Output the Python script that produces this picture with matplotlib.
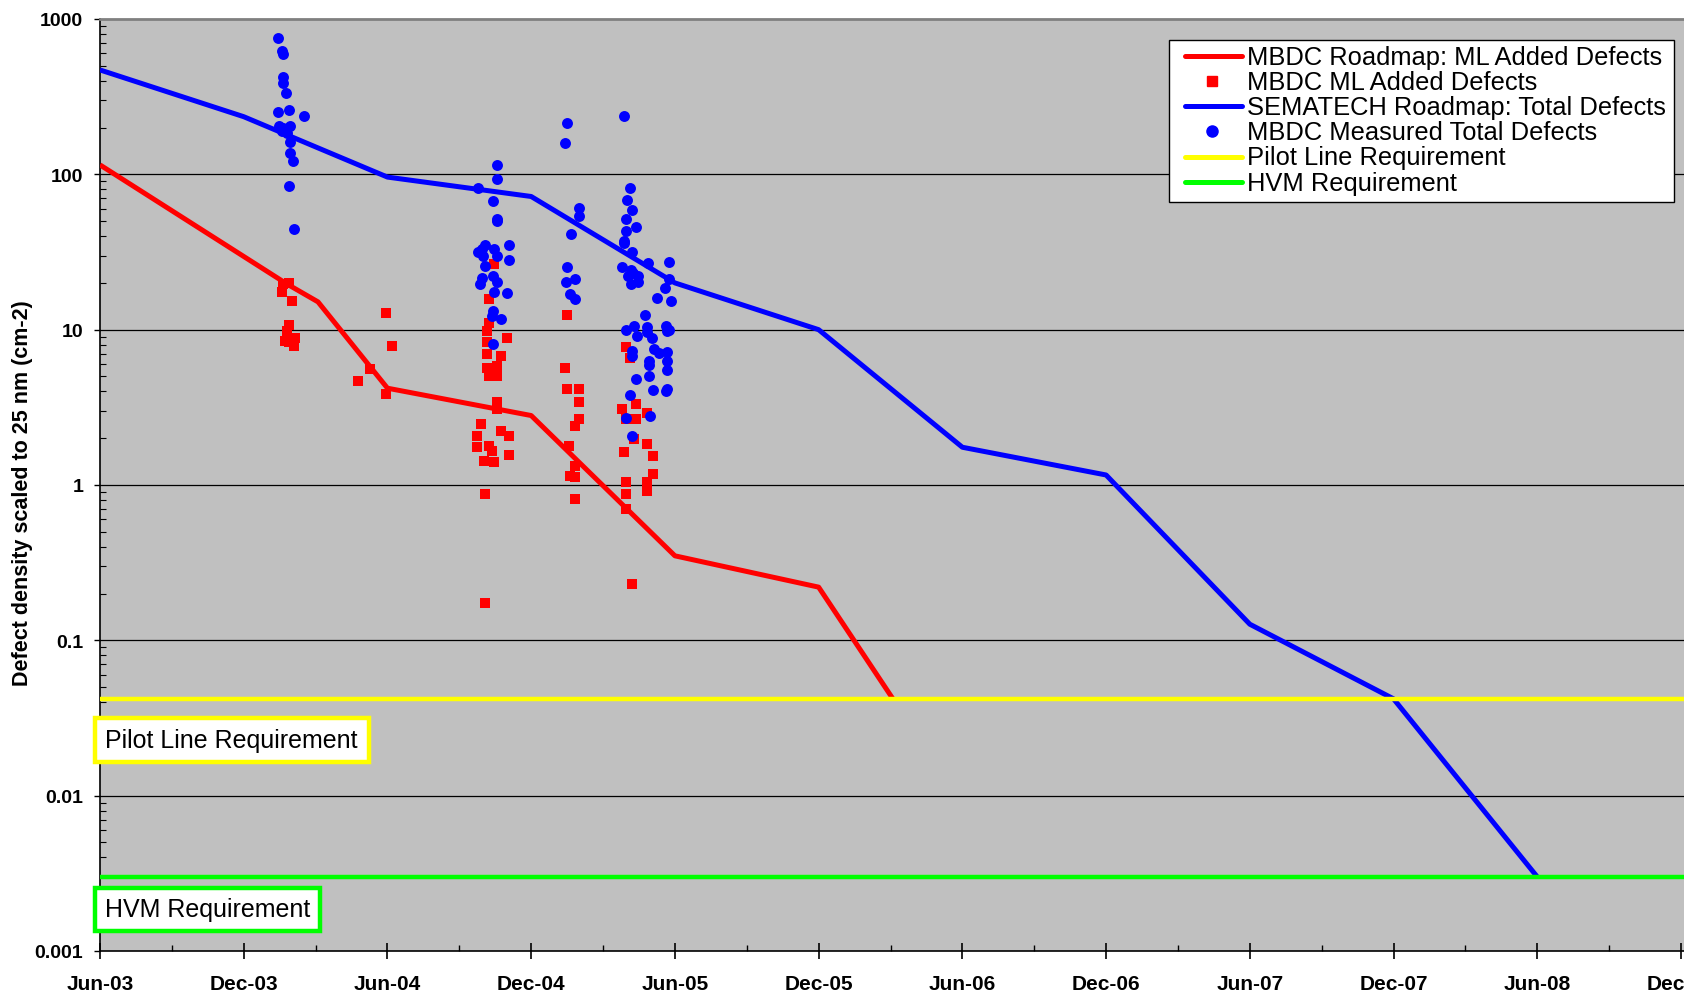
import matplotlib
matplotlib.use("Agg")
import matplotlib.pyplot as plt
from matplotlib.lines import Line2D
from matplotlib.patches import Rectangle
from matplotlib.ticker import FixedLocator, NullFormatter, LogLocator

plt.rcParams['font.family'] = ['Liberation Sans', 'DejaVu Sans']

# ---------------- data (x = months after Jun-2003) ----------------
tick_labels = ['Jun-03', 'Dec-03', 'Jun-04', 'Dec-04', 'Jun-05', 'Dec-05',
               'Jun-06', 'Dec-06', 'Jun-07', 'Dec-07', 'Jun-08', 'Dec-08']
tick_months = [0, 6, 12, 18, 24, 30, 36, 42, 48, 54, 60, 66]

y_ticks = [0.001, 0.01, 0.1, 1, 10, 100, 1000]
y_tick_labels = ['0.001', '0.01', '0.1', '1', '10', '100', '1000']

# MBDC roadmap: ML added defects
red_road_x = [0, 7.8, 9.1, 12, 18, 24, 30, 33.1]
red_road_y = [115, 19.7, 15.1, 4.2, 2.8, 0.35, 0.22, 0.042]

# SEMATECH roadmap: total defects
blue_road_x = [0, 6, 12, 18, 24, 30, 36, 42, 48, 54, 60]
blue_road_y = [470, 235, 96, 72, 20, 10, 1.75, 1.16, 0.127, 0.042, 0.003]

# requirements
pilot_req = 0.042
hvm_req = 0.003

# MBDC ML added defects (measured)
red_pts_x = [7.65, 7.90, 7.59, 8.02, 7.90, 7.80, 7.73, 8.12, 8.08, 7.90,
             11.94, 12.19, 11.28, 10.79, 11.94,
             16.44, 16.23, 16.23, 16.16, 17.00, 16.16, 16.16, 16.72, 16.16, 16.58,
             16.58, 16.23, 16.58, 16.58, 15.92, 15.74, 16.72, 17.06, 15.74, 16.23,
             16.37, 16.02, 16.44, 17.06, 16.09, 16.09,
             19.50, 19.43, 19.50, 19.99, 19.99, 19.99, 19.81, 19.57, 19.81, 19.64,
             19.81, 19.81,
             21.94, 22.12, 21.80, 22.36, 22.85, 22.36, 21.94, 22.29, 22.85, 21.87,
             23.10, 23.10, 22.85, 22.85, 21.94, 21.94, 21.94, 22.19]
red_pts_y = [19.7, 19.9, 17.5, 15.2, 10.7, 9.8, 8.4, 8.9, 7.9, 8.3,
             12.8, 7.8, 5.6, 4.7, 3.85,
             26.4, 15.7, 11.1, 9.8, 8.9, 8.3, 7.0, 6.8, 5.7, 5.8,
             5.05, 5.05, 3.4, 3.1, 2.47, 2.08, 2.23, 2.08, 1.75, 1.79,
             1.66, 1.43, 1.40, 1.56, 0.87, 0.174,
             12.4, 5.7, 4.14, 4.14, 3.4, 2.65, 2.4, 1.79, 1.33, 1.15,
             1.12, 0.81,
             7.7, 6.6, 3.1, 3.3, 2.9, 2.65, 2.65, 1.98, 1.83, 1.64,
             1.54, 1.17, 1.04, 0.92, 1.04, 0.87, 0.70, 0.23]

# MBDC measured total defects
blue_pts_x = [7.45, 7.59, 7.63, 7.62, 7.63, 7.77, 7.43, 7.89, 8.50, 7.49,
              7.65, 7.94, 7.61, 7.81, 7.94, 7.94, 8.07, 7.87, 8.08,
              16.58, 16.58, 15.77, 16.41, 16.58, 16.58, 16.09, 17.06, 15.77, 15.95,
              16.44, 16.58, 16.00, 17.06, 16.09, 16.41, 15.95, 15.88, 16.58, 16.44,
              16.97, 16.41, 16.37, 16.74, 16.41,
              19.50, 19.43, 19.99, 19.99, 19.67, 19.50, 19.85, 19.47, 19.64, 19.85,
              21.87, 22.12, 21.98, 22.19, 21.94, 22.36, 21.94, 21.87, 21.87, 22.19,
              22.87, 23.75, 21.80, 22.15, 22.27, 22.44, 22.06, 22.44, 22.15, 23.75,
              23.58, 23.26, 23.82, 22.77, 21.94, 22.29, 22.85, 23.61, 23.75, 22.43,
              22.85, 23.06, 23.68, 22.22, 22.22, 23.12, 23.33, 23.68, 22.91, 23.68,
              22.91, 22.91, 23.68, 22.36, 23.10, 23.65, 23.61, 22.12, 21.94, 22.94,
              22.19]
blue_pts_y = [755, 620, 596, 422, 387, 334, 251, 259, 238, 206,
              200, 205, 190, 185, 162, 137, 122, 84, 44.5,
              115, 94, 82, 67, 51.5, 50, 35, 35, 31.5, 33,
              33, 29.7, 30, 28, 25.8, 22, 21.4, 19.7, 20.2, 17.4,
              17.2, 13.2, 12.3, 11.8, 8.1,
              213, 158, 61, 54, 41, 25.2, 21.2, 20.3, 16.9, 15.7,
              238, 82, 68.6, 59, 51.5, 46, 43.4, 37.4, 36, 31.5,
              26.8, 27.1, 25.2, 24.1, 23.2, 22, 22, 20.4, 19.7, 21.2,
              18.5, 16.1, 15.4, 12.4, 9.9, 10.5, 10.4, 10.5, 10, 9.1,
              9.6, 8.9, 9.8, 7.3, 6.8, 7.5, 7.1, 7.2, 6.3, 6.3,
              5.9, 5.05, 5.5, 4.8, 4.1, 4.15, 4.0, 3.8, 2.69, 2.77,
              2.08]

legend_labels = ['MBDC Roadmap: ML Added Defects', 'MBDC ML Added Defects',
                 'SEMATECH Roadmap: Total Defects', 'MBDC Measured Total Defects',
                 'Pilot Line Requirement', 'HVM Requirement']

RED, BLUE, YEL, GRN = '#FF0000', '#0000FF', '#FFFF00', '#00FF00'

# ---------------- figure ----------------
W, H = 1684, 995
fig = plt.figure(figsize=(W / 100, H / 100), dpi=100)
ax_left, ax_right, ax_top, ax_bot = 100, 1684, 20, 952
ax = fig.add_axes([ax_left / W, 1 - ax_bot / H, (ax_right - ax_left) / W, (ax_bot - ax_top) / H])
ax.set_facecolor('#C0C0C0')

ax.set_yscale('log')
ax.set_ylim(0.001, 1000)
ax.set_xlim(0, 66 * (ax_right - ax_left) / (1681 - ax_left))

# gridlines
for yv in y_ticks[1:-1]:
    ax.axhline(yv, color='black', lw=0.9, zorder=1)

lw = 3.6
ax.plot(red_road_x, red_road_y, color=RED, lw=lw, zorder=3, solid_capstyle='butt')
ax.scatter(red_pts_x, red_pts_y, marker='s', s=62, color=RED, linewidths=0, zorder=4)
ax.plot(blue_road_x, blue_road_y, color=BLUE, lw=lw, zorder=5, solid_capstyle='butt')
ax.scatter(blue_pts_x, blue_pts_y, marker='o', s=62, color=BLUE, linewidths=0, zorder=6)
ax.axhline(pilot_req, color=YEL, lw=3.2, zorder=7)
ax.axhline(hvm_req, color=GRN, lw=3.2, zorder=7)

# axes styling
ax.set_xticks(tick_months)
ax.set_xticklabels(tick_labels, fontsize=15, fontweight='bold')
ax.xaxis.set_minor_locator(FixedLocator([m + 3 for m in tick_months]))
ax.tick_params(axis='x', which='major', direction='inout', length=11, width=1.2, pad=11)
ax.tick_params(axis='x', which='minor', direction='in', length=4, width=1.0)

ax.set_yticks(y_ticks)
ax.set_yticklabels(y_tick_labels, fontsize=14, fontweight='bold')
ax.yaxis.set_minor_locator(LogLocator(base=10, subs=range(2, 10)))
ax.yaxis.set_minor_formatter(NullFormatter())
ax.tick_params(axis='y', which='major', direction='out', length=4, width=1.0, pad=8)
ax.tick_params(axis='y', which='minor', direction='in', length=4, width=0.8)

ax.spines['left'].set_color('black')
ax.spines['left'].set_linewidth(1.2)
ax.spines['bottom'].set_color('black')
ax.spines['bottom'].set_linewidth(1.2)
ax.spines['top'].set_color('#808080')
ax.spines['top'].set_linewidth(2)
ax.spines['right'].set_visible(False)

fig.text(23 / W, 1 - 493 / H, 'Defect density scaled to 25 nm (cm-2)', rotation=90,
         ha='center', va='center', fontsize=15.5, fontweight='bold')

# legend (drawn in figure pixel positions)
def fx(px):
    return px / W

def fy(py):
    return 1 - py / H

leg_frame = Rectangle((fx(1169), fy(203)), (1674 - 1169) / W, (203 - 41) / H,
                      transform=fig.transFigure, facecolor='white', edgecolor='black',
                      linewidth=1.0, zorder=30)
fig.patches.append(leg_frame)
leg_styles = [dict(color=RED, lw=lw), dict(color=RED, marker='s', ls='none', markersize=7.5),
              dict(color=BLUE, lw=lw), dict(color=BLUE, marker='o', ls='none', markersize=8),
              dict(color=YEL, lw=lw), dict(color=GRN, lw=lw)]
for i, (label, st) in enumerate(zip(legend_labels, leg_styles)):
    yc = 56.7 + 25.2 * i
    if st.get('ls') == 'none':
        h = Line2D([fx(1212)], [fy(yc)], transform=fig.transFigure, zorder=31, **st)
    else:
        h = Line2D([fx(1185), fx(1242)], [fy(yc), fy(yc)], transform=fig.transFigure,
                   zorder=31, solid_capstyle='round', **st)
    fig.lines.append(h)
    fig.text(fx(1247), fy(yc + 1), label, ha='left', va='center', fontsize=18.4, zorder=32)

# requirement label boxes
def req_box(x0, x1, y0, y1, color, text):
    r = Rectangle((fx(x0), fy(y1)), (x1 - x0) / W, (y1 - y0) / H,
                  transform=fig.transFigure, facecolor='white', edgecolor=color,
                  linewidth=3.2, zorder=20)
    fig.patches.append(r)
    fig.text(fx(105), fy((y0 + y1) / 2), text, ha='left', va='center',
             fontsize=18, zorder=21)

req_box(95, 369, 719, 763, YEL, 'Pilot Line Requirement')
req_box(95, 320, 889, 932, GRN, 'HVM Requirement')

fig.savefig('out.png', dpi=100, facecolor='white')
